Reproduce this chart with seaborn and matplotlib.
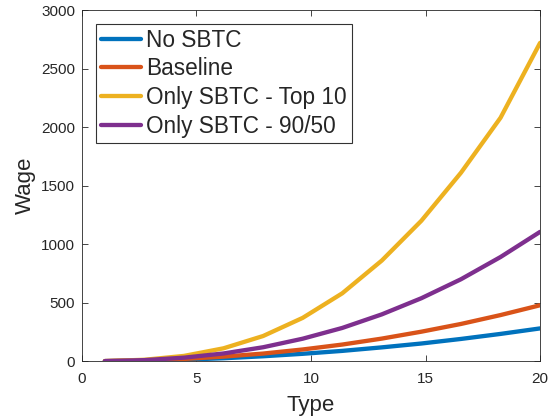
import numpy as np
import pandas as pd
import matplotlib
matplotlib.use("Agg")
import matplotlib.pyplot as plt
import seaborn as sns

# type grid (12 points from 1 to 20)
types = [1.0, 2.727, 4.455, 6.182, 7.909, 9.636, 11.364, 13.091, 14.818, 16.545, 18.273, 20.0]

no_sbtc = [0.6, 4.7, 13, 25, 42, 63, 88, 118, 151, 190, 233, 280]
baseline = [0.8, 6.7, 19, 39, 65, 100, 142, 193, 252, 318, 394, 478]
top10 = [0.8, 12, 45, 110, 215, 370, 580, 860, 1200, 1610, 2080, 2720]
p9050 = [0.8, 9, 30, 66, 119, 192, 284, 400, 538, 700, 890, 1105]

series_names = ["No SBTC", "Baseline", "Only SBTC - Top 10", "Only SBTC - 90/50"]
colors = ["#0072BD", "#D95319", "#EDB120", "#7E2F8E"]

df = pd.DataFrame({
    "Type": types * 4,
    "Wage": no_sbtc + baseline + top10 + p9050,
    "series": sum([[n] * len(types) for n in series_names], []),
})

sns.set_style("ticks")
plt.rcParams["font.family"] = ["Liberation Sans", "DejaVu Sans"]

fig = plt.figure(figsize=(5.5, 4.19), dpi=100)
ax = fig.add_axes([0.149, 0.138, 0.833, 0.838])

sns.lineplot(data=df, x="Type", y="Wage", hue="series", hue_order=series_names,
             palette=colors, linewidth=3.1, ax=ax)

ax.set_xlim(0, 20)
ax.set_ylim(0, 3000)
ax.set_xticks([0, 5, 10, 15, 20])
ax.set_yticks([0, 500, 1000, 1500, 2000, 2500, 3000])
ax.tick_params(direction="in", length=4, width=0.6, color="#262626",
               labelsize=11, labelcolor="#262626", top=True, right=True)
ax.tick_params(axis="x", pad=8)
ax.tick_params(axis="y", pad=5)
for s in ax.spines.values():
    s.set_color("#262626")
    s.set_linewidth(0.6)
    s.set_visible(True)
ax.set_xlabel("Type", fontsize=16, color="#262626", labelpad=6)
ax.set_ylabel("Wage", fontsize=16, color="#262626", labelpad=4)

leg = ax.legend(loc="upper left", fontsize=16.3, frameon=True, fancybox=False,
                edgecolor="black", handlelength=1.8, handletextpad=0.22,
                borderpad=0.22, labelspacing=0.25, borderaxespad=0.6)
leg.get_frame().set_linewidth(0.8)
for line in leg.get_lines():
    line.set_linewidth(3.1)

fig.savefig("out.png", dpi=100)
